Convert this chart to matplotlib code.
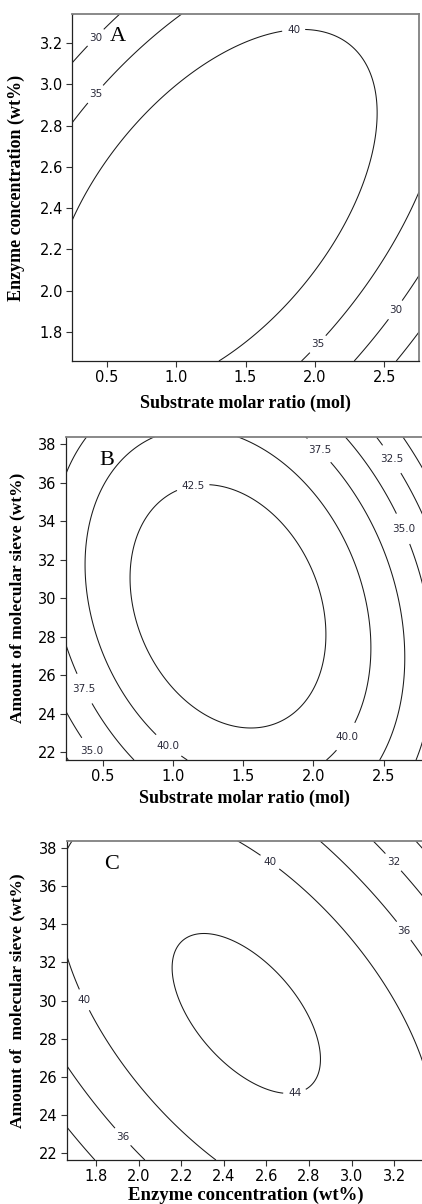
import numpy as np
import matplotlib
matplotlib.use("Agg")
import matplotlib.pyplot as plt

# quadratic response surface (coded units): b0, b1, b2, b12, b11, b22
coef_A = [44.609, -1.066, -0.197, 2.652, -2.752, -2.186]   # ratio x enzyme
coef_B = [44.635, -0.861, -0.376, -0.930, -2.708, -1.463]  # ratio x sieve
coef_C = [44.702, -0.235, -0.390, -2.112, -2.225, -1.536]  # enzyme x sieve

# centre / step of each factor
ratio = (1.5, 0.75)
enzyme = (2.5, 0.5)
sieve = (30.0, 5.0)

levels_A = [25, 30, 35, 40]
levels_B = [30, 32.5, 35, 37.5, 40, 42.5]
levels_C = [28, 32, 36, 40, 44]

ratio_ticks = [0.5, 1.0, 1.5, 2.0, 2.5]
enzyme_ticks = [1.8, 2.0, 2.2, 2.4, 2.6, 2.8, 3.0, 3.2]
sieve_ticks = [22, 24, 26, 28, 30, 32, 34, 36, 38]

label_pos_A = [(0.42, 3.226), (0.424, 2.949), (1.847, 3.261), (2.025, 1.739), (2.584, 1.905)]
label_pos_B = [(2.037, 37.67), (2.553, 37.21), (1.141, 35.87), (2.643, 33.63),
               (0.362, 25.28), (0.968, 22.35), (0.417, 22.04), (2.227, 22.83)]
label_pos_C = [(2.617, 37.27), (3.192, 37.22), (3.237, 33.59), (1.745, 30.04),
               (2.734, 25.1), (1.923, 22.84)]


def surface(c, fx, fy, xlim, ylim):
    x = np.linspace(xlim[0], xlim[1], 300)
    y = np.linspace(ylim[0], ylim[1], 300)
    X, Y = np.meshgrid(x, y)
    u = (X - fx[0]) / fx[1]
    v = (Y - fy[0]) / fy[1]
    Z = c[0] + c[1]*u + c[2]*v + c[3]*u*v + c[4]*u**2 + c[5]*v**2
    return X, Y, Z


fig = plt.figure(figsize=(4.22, 12.04), dpi=100)

W, H = 422, 1204
def px_axes(l, t, r, b):
    return fig.add_axes([l/W, 1 - b/H, (r - l)/W, (b - t)/H])

serif = "Liberation Serif"

panels = [
    (px_axes(72, 14, 419, 361), coef_A, ratio, enzyme, (0.25, 2.75), (1.66, 3.34), levels_A, "%d",
     label_pos_A, ratio_ticks, enzyme_ticks, "%.1f", "%.1f",
     "Substrate molar ratio (mol)", "Enzyme concentration (wt%)", "A", (0.133, 0.935), -0.135, -0.097, 13),
    (px_axes(65.7, 436.7, 423, 760), coef_B, ratio, sieve, (0.236, 2.78), (21.6, 38.4), levels_B, "%.1f",
     label_pos_B, ratio_ticks, sieve_ticks, "%.1f", "%d",
     "Substrate molar ratio (mol)", "Amount of molecular sieve (wt%)", "B", (0.116, 0.926), -0.114, -0.092, 13),
    (px_axes(66.7, 840.7, 424.7, 1160), coef_C, enzyme, sieve, (1.6625, 3.343), (21.65, 38.38), levels_C, "%d",
     label_pos_C, enzyme_ticks, sieve_ticks, "%.1f", "%d",
     "Enzyme concentration (wt%)", "Amount of  molecular sieve (wt%)", "C", (0.124, 0.926), -0.116, -0.085, 13.5),
]

for (ax, c, fx, fy, xlim, ylim, levels, fmt, lpos, xt, yt, xf, yf,
     xlabel, ylabel, letter, lxy, ylx, xly, xls) in panels:
    X, Y, Z = surface(c, fx, fy, xlim, ylim)
    cs = ax.contour(X, Y, Z, levels=levels, colors="#1a1a1a", linewidths=0.75)
    lbl = ax.clabel(cs, fmt=fmt, manual=lpos, inline=True, inline_spacing=5, fontsize=7.5)
    for t in lbl:
        t.set_color("#2a2a3a")
        t.set_rotation(0)
    ax.set_xlim(xlim)
    ax.set_ylim(ylim)
    ax.set_xticks(xt)
    ax.set_yticks(yt)
    ax.set_xticklabels([xf % v for v in xt])
    ax.set_yticklabels([yf % v for v in yt])
    ax.tick_params(direction="out", length=4, width=0.8, labelsize=10.5, pad=2.5, color="#333333")
    for s in ["top", "right"]:
        ax.spines[s].set_color("#808080")
        ax.spines[s].set_linewidth(1.3)
    for s in ["left", "bottom"]:
        ax.spines[s].set_color("#222222")
        ax.spines[s].set_linewidth(0.9)
    ax.set_xlabel(xlabel, fontfamily=serif, fontweight="bold", fontsize=xls)
    ax.set_ylabel(ylabel, fontfamily=serif, fontweight="bold", fontsize=13 if letter == "A" else 12.5)
    ax.xaxis.set_label_coords(0.5, xly)
    ax.yaxis.set_label_coords(ylx, 0.5)
    ax.text(lxy[0], lxy[1], letter, transform=ax.transAxes, fontfamily=serif,
            fontsize=16, ha="center", va="center")

fig.savefig("out.png", dpi=100)
